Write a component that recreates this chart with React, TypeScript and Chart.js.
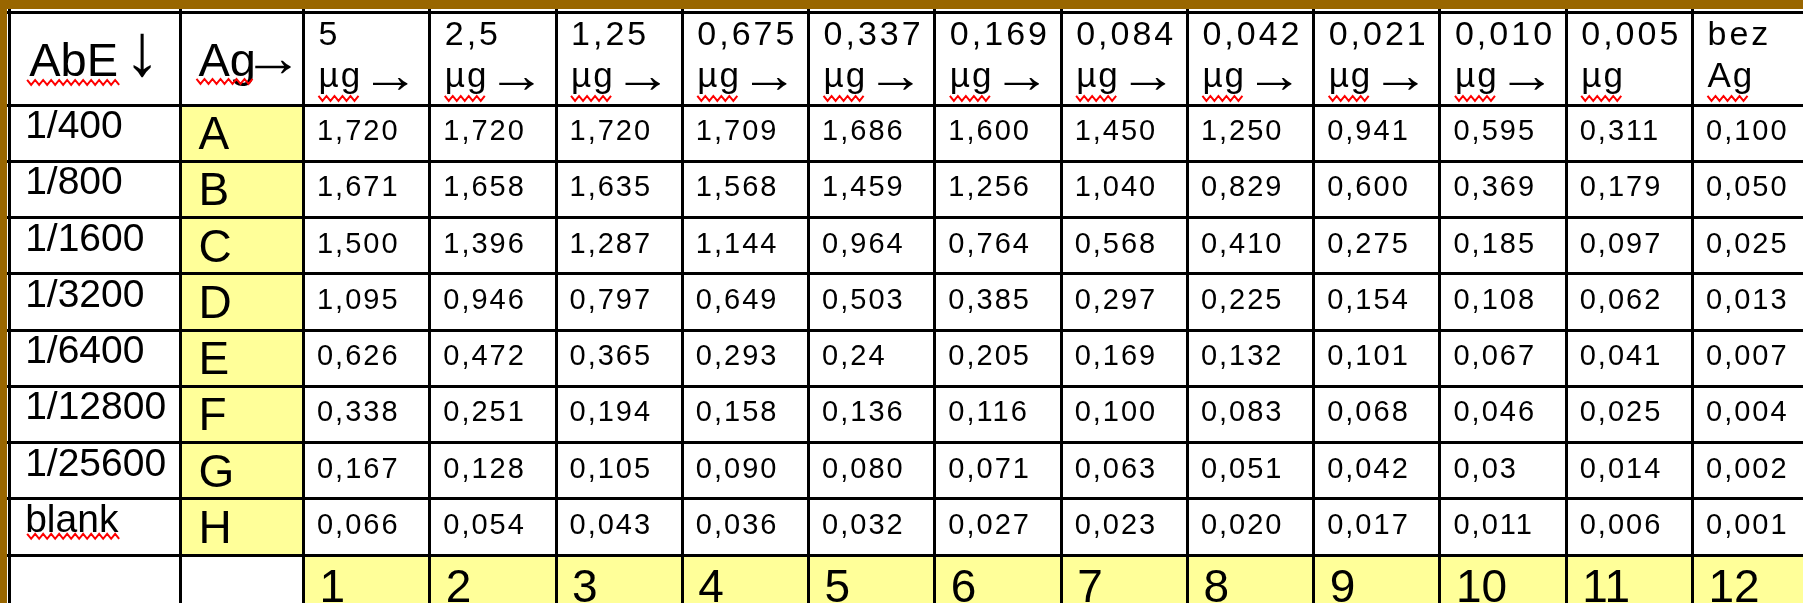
import React, { useEffect, useRef } from "react";
import { Chart, registerables } from "chart.js";

Chart.register(...registerables);

// ---------- table content ----------
const AG_AMOUNTS = ["5", "2,5", "1,25", "0,675", "0,337", "0,169", "0,084", "0,042", "0,021", "0,010", "0,005", "bez"];
const AG_UNITS = ["µg", "µg", "µg", "µg", "µg", "µg", "µg", "µg", "µg", "µg", "µg", "Ag"];
const AG_ARROWS = [true, true, true, true, true, true, true, true, true, true, false, false];
const ABE_DILUTIONS = ["1/400", "1/800", "1/1600", "1/3200", "1/6400", "1/12800", "1/25600", "blank"];
const PLATE_ROWS = ["A", "B", "C", "D", "E", "F", "G", "H"];
const PLATE_COLUMNS = [1, 2, 3, 4, 5, 6, 7, 8, 9, 10, 11, 12];

const ROW_A = ["1,720", "1,720", "1,720", "1,709", "1,686", "1,600", "1,450", "1,250", "0,941", "0,595", "0,311", "0,100"];
const ROW_B = ["1,671", "1,658", "1,635", "1,568", "1,459", "1,256", "1,040", "0,829", "0,600", "0,369", "0,179", "0,050"];
const ROW_C = ["1,500", "1,396", "1,287", "1,144", "0,964", "0,764", "0,568", "0,410", "0,275", "0,185", "0,097", "0,025"];
const ROW_D = ["1,095", "0,946", "0,797", "0,649", "0,503", "0,385", "0,297", "0,225", "0,154", "0,108", "0,062", "0,013"];
const ROW_E = ["0,626", "0,472", "0,365", "0,293", "0,24", "0,205", "0,169", "0,132", "0,101", "0,067", "0,041", "0,007"];
const ROW_F = ["0,338", "0,251", "0,194", "0,158", "0,136", "0,116", "0,100", "0,083", "0,068", "0,046", "0,025", "0,004"];
const ROW_G = ["0,167", "0,128", "0,105", "0,090", "0,080", "0,071", "0,063", "0,051", "0,042", "0,03", "0,014", "0,002"];
const ROW_H = ["0,066", "0,054", "0,043", "0,036", "0,032", "0,027", "0,023", "0,020", "0,017", "0,011", "0,006", "0,001"];
const DATA_ROWS = [ROW_A, ROW_B, ROW_C, ROW_D, ROW_E, ROW_F, ROW_G, ROW_H];

// ---------- layout (scale units: one data column / one data row = 1) ----------
const X_MIN = -1.848;
const X_MAX = 12.375;
const X_EDGES = [-1.831, -0.474, 0.5, 1.5, 2.5, 3.5, 4.5, 5.5, 6.5, 7.5, 8.5, 9.5, 10.5, 11.5];
const Y_MIN = -2.207;
const Y_MAX = 8.353;
const Y_EDGES = [-2.136, -0.5, 0.5, 1.5, 2.5, 3.5, 4.5, 5.5, 6.5, 7.5];

const FONT = '"Liberation Sans", Arial, sans-serif';
const BROWN = "#996600";
const YELLOW = "#ffff99";

function drawText(ctx: CanvasRenderingContext2D, s: string, x: number, y: number, size: number, spacing: number) {
  ctx.font = `${size}px ${FONT}`;
  (ctx as any).letterSpacing = `${spacing}px`;
  ctx.fillText(s, x, y);
  (ctx as any).letterSpacing = "0px";
}

// draw a glyph so that its ink fills the given box (uniform=true keeps the glyph's aspect, centred)
function drawFitted(ctx: CanvasRenderingContext2D, s: string, x0: number, x1: number, y0: number, y1: number, uniform = false) {
  ctx.save();
  ctx.font = `100px ${FONT}`;
  (ctx as any).letterSpacing = "0px";
  const m = ctx.measureText(s);
  const w = m.actualBoundingBoxLeft + m.actualBoundingBoxRight;
  const h = m.actualBoundingBoxAscent + m.actualBoundingBoxDescent;
  let sx = (x1 - x0) / w;
  const sy = (y1 - y0) / h;
  let ox = x0;
  if (uniform) {
    sx = sy;
    ox = (x0 + x1) / 2 - (w * sx) / 2;
  }
  ctx.translate(ox, y0);
  ctx.scale(sx, sy);
  ctx.fillText(s, m.actualBoundingBoxLeft, m.actualBoundingBoxAscent);
  ctx.restore();
}

function squiggle(ctx: CanvasRenderingContext2D, x0: number, x1: number, yTop: number) {
  const half = 4;
  const amp = 5;
  ctx.save();
  ctx.beginPath();
  ctx.moveTo(x0, yTop);
  let down = true;
  for (let xx = x0 + half; xx <= x1; xx += half) {
    ctx.lineTo(xx, down ? yTop + amp : yTop);
    down = !down;
  }
  ctx.strokeStyle = "#ff0000";
  ctx.lineWidth = 2;
  ctx.stroke();
  ctx.restore();
}

const tablePlugin = {
  id: "tableCells",
  beforeDraw(chart: any) {
    const { ctx, chartArea: a } = chart;
    const x = chart.scales.x;
    const y = chart.scales.y;
    ctx.save();
    ctx.fillStyle = "#ffffff";
    ctx.fillRect(a.left, a.top, a.right - a.left, a.bottom - a.top);
    ctx.fillStyle = YELLOW;
    const agL = x.getPixelForValue(X_EDGES[1]);
    const agR = x.getPixelForValue(X_EDGES[2]);
    const rowsTop = y.getPixelForValue(-0.5);
    const rowsBottom = y.getPixelForValue(PLATE_ROWS.length - 0.5);
    ctx.fillRect(agL, rowsTop, agR - agL, rowsBottom - rowsTop);
    ctx.fillRect(agR, rowsBottom, a.right - agR, a.bottom - rowsBottom);
    ctx.restore();
  },
  afterDraw(chart: any) {
    const { ctx } = chart;
    const x = chart.scales.x;
    const y = chart.scales.y;
    ctx.save();
    ctx.fillStyle = "#000000";
    ctx.textAlign = "left";
    ctx.textBaseline = "alphabetic";

    const headTop = y.getPixelForValue(Y_EDGES[0]);
    const c0 = x.getPixelForValue(X_EDGES[0]);
    const c1 = x.getPixelForValue(X_EDGES[1]);

    // header: first two cells
    drawText(ctx, "AbE", c0 + 20, headTop + 62.7, 47, 0);
    drawFitted(ctx, "↓", c0 + 120, c0 + 146, headTop + 20, headTop + 64, true);
    squiggle(ctx, c0 + 18, c0 + 110, headTop + 67);
    drawText(ctx, "Ag", c1 + 18, headTop + 62.7, 47, 0);
    drawFitted(ctx, "→", c1 + 74.5, c1 + 110.5, headTop + 47, headTop + 60);
    squiggle(ctx, c1 + 16, c1 + 74, headTop + 66);

    // header: antigen amounts
    PLATE_COLUMNS.forEach((col, j) => {
      const left = x.getPixelForValue(col - 0.5);
      drawText(ctx, AG_AMOUNTS[j], left + 15, headTop + 31.7, 34, 3);
      drawText(ctx, AG_UNITS[j], left + 15, headTop + 74, 35, 2);
      if (AG_ARROWS[j]) {
        drawFitted(ctx, "→", left + 69.5, left + 104.5, headTop + 65, headTop + 77);
      }
      squiggle(ctx, left + 15, left + 58, headTop + 83);
    });

    // row labels and plate row letters
    PLATE_ROWS.forEach((letter, r) => {
      const top = y.getPixelForValue(r - 0.5);
      drawText(ctx, ABE_DILUTIONS[r], c0 + 16, top + 33, 39, 0);
      drawText(ctx, letter, c1 + 18, top + 44, 46, 0);
    });
    const lastTop = y.getPixelForValue(PLATE_ROWS.length - 1.5);
    squiggle(ctx, c0 + 18, c0 + 111, lastTop + 35);

    // absorbance values, placed on each dataset point
    DATA_ROWS.forEach((row, r) => {
      const meta = chart.getDatasetMeta(r);
      meta.data.forEach((el: any, j: number) => {
        const left = x.getPixelForValue(PLATE_COLUMNS[j] - 0.5);
        const top = y.getPixelForValue(r - 0.5);
        drawText(ctx, row[j], left + 13.5, top + 35, 29, 2);
      });
    });

    // bottom row: plate column numbers
    const bottomTop = y.getPixelForValue(PLATE_ROWS.length - 0.5);
    PLATE_COLUMNS.forEach((col) => {
      const left = x.getPixelForValue(col - 0.5);
      drawText(ctx, String(col), left + 16, bottomTop + 47, 46, 0);
    });

    ctx.restore();
  },
};

export default function App() {
  const ref = useRef<HTMLCanvasElement | null>(null);

  useEffect(() => {
    document.body.style.margin = "0";
    const canvas = ref.current;
    if (!canvas) return;
    const chart = new Chart(canvas, {
      type: "scatter",
      data: {
        datasets: DATA_ROWS.map((row, r) => ({
          label: PLATE_ROWS[r],
          data: row.map((_, j) => ({ x: PLATE_COLUMNS[j], y: r })),
          pointRadius: 0,
          pointHoverRadius: 0,
          pointHitRadius: 0,
          borderWidth: 0,
        })),
      },
      options: {
        animation: false,
        responsive: false,
        devicePixelRatio: 1,
        events: [],
        layout: { padding: { left: 7, top: 9, right: 0, bottom: 0 }, autoPadding: false },
        plugins: { legend: { display: false }, tooltip: { enabled: false } },
        scales: {
          x: {
            type: "linear",
            min: X_MIN,
            max: X_MAX,
            ticks: { display: false },
            border: { display: false },
            grid: { color: "#000000", lineWidth: 3, drawTicks: false },
            afterBuildTicks: (s: any) => {
              s.ticks = X_EDGES.map((v) => ({ value: v }));
            },
            afterFit: (s: any) => {
              s.height = 0;
            },
          },
          y: {
            type: "linear",
            reverse: true,
            min: Y_MIN,
            max: Y_MAX,
            ticks: { display: false },
            border: { display: false },
            grid: { color: "#000000", lineWidth: 3, drawTicks: false },
            afterBuildTicks: (s: any) => {
              s.ticks = Y_EDGES.map((v) => ({ value: v }));
            },
            afterFit: (s: any) => {
              s.width = 0;
            },
          },
        },
      },
      plugins: [tablePlugin],
    } as any);
    return () => chart.destroy();
  }, []);

  return (
    <div style={{ width: 1803, height: 603, background: BROWN, overflow: "hidden" }}>
      <canvas ref={ref} width={1803} height={603} style={{ display: "block" }} />
    </div>
  );
}
